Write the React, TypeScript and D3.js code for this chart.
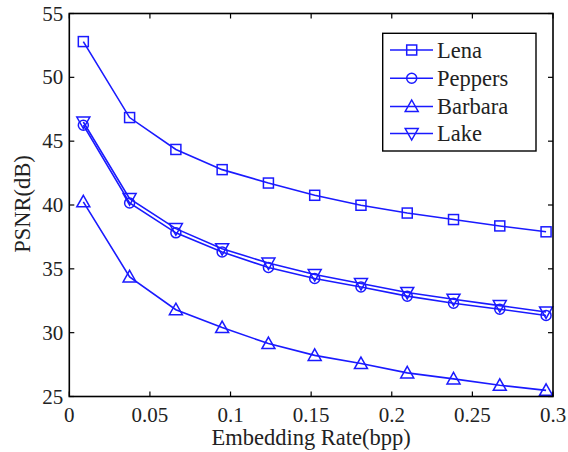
import React from "react";
import * as d3 from "d3";

const rates = [0.0087, 0.0374, 0.0661, 0.0948, 0.1235, 0.1522, 0.1809, 0.2096, 0.2383, 0.267, 0.2957];
const lena = [52.8, 46.85, 44.35, 42.77, 41.72, 40.76, 39.98, 39.37, 38.86, 38.36, 37.9];
const peppers = [46.25, 40.16, 37.82, 36.32, 35.1, 34.24, 33.58, 32.86, 32.3, 31.84, 31.35];
const barbara = [40.25, 34.37, 31.8, 30.4, 29.15, 28.22, 27.58, 26.85, 26.38, 25.88, 25.48];
const lake = [46.5, 40.5, 38.15, 36.58, 35.45, 34.55, 33.85, 33.15, 32.62, 32.12, 31.62];

const seriesNames = ["Lena", "Peppers", "Barbara", "Lake"];
const seriesMarkers = ["square", "circle", "triangle", "triangleDown"];
const seriesValues = [lena, peppers, barbara, lake];

const xTicks = [0, 0.05, 0.1, 0.15, 0.2, 0.25, 0.3];
const yTicks = [25, 30, 35, 40, 45, 50, 55];

const W = 568;
const H = 452;
const L = 69.3, R = 553, T = 13.5, B = 396.5;
const BLUE = "#1a1aff";
const FONT = "Liberation Serif, DejaVu Serif, serif";
const txt: React.CSSProperties = { fontFamily: FONT };

function Marker({ kind, x, y }: { kind: string; x: number; y: number }) {
  const s = 5;
  if (kind === "square")
    return <rect x={x - s} y={y - s} width={2 * s} height={2 * s} fill="none" stroke={BLUE} strokeWidth={1.5} />;
  if (kind === "circle")
    return <circle cx={x} cy={y} r={s} fill="none" stroke={BLUE} strokeWidth={1.5} />;
  if (kind === "triangle")
    return <path d={`M${x},${y - 6.5}L${x + 6.5},${y + 5}L${x - 6.5},${y + 5}Z`} fill="none" stroke={BLUE} strokeWidth={1.5} />;
  return <path d={`M${x},${y + 6.5}L${x + 6.5},${y - 5}L${x - 6.5},${y - 5}Z`} fill="none" stroke={BLUE} strokeWidth={1.5} />;
}

export default function App() {
  const xs = d3.scaleLinear().domain([0, 0.3]).range([L, R]);
  const ys = d3.scaleLinear().domain([25, 55]).range([B, T]);
  const line = d3
    .line<number>()
    .x((_, i) => xs(rates[i]))
    .y((d) => ys(d));
  const tl = 5;

  const legX = 382.7, legY = 33.3, legW = 153.3, legH = 117.7;
  const legRows = [50, 78.3, 106.5, 133.5];

  return (
    <svg width={W} height={H} style={{ position: "absolute", left: 0, top: 0, background: "#fff" }}>
      <rect x={0} y={0} width={W} height={H} fill="#fff" />
      {seriesValues.map((vals, si) => (
        <g key={seriesNames[si]}>
          <path d={line(vals) || ""} fill="none" stroke={BLUE} strokeWidth={1.6} />
          {vals.map((v, i) => (
            <Marker key={i} kind={seriesMarkers[si]} x={xs(rates[i])} y={ys(v)} />
          ))}
        </g>
      ))}
      {xTicks.map((t) => (
        <g key={"x" + t}>
          <line x1={xs(t)} x2={xs(t)} y1={B} y2={B - tl} stroke="#000" strokeWidth={1.2} />
          <line x1={xs(t)} x2={xs(t)} y1={T} y2={T + tl} stroke="#000" strokeWidth={1.2} />
          <text x={xs(t)} y={422} textAnchor="middle" style={txt} fontSize={21} fill="#222">
            {String(t)}
          </text>
        </g>
      ))}
      {yTicks.map((t) => (
        <g key={"y" + t}>
          <line x1={L} x2={L + tl} y1={ys(t)} y2={ys(t)} stroke="#000" strokeWidth={1.2} />
          <line x1={R} x2={R - tl} y1={ys(t)} y2={ys(t)} stroke="#000" strokeWidth={1.2} />
          <text x={L - 6} y={ys(t) + 7} textAnchor="end" style={txt} fontSize={21} fill="#222">
            {String(t)}
          </text>
        </g>
      ))}
      <rect x={L} y={T} width={R - L} height={B - T} fill="none" stroke="#000" strokeWidth={1.6} />
      <text x={(L + R) / 2} y={445} textAnchor="middle" style={txt} fontSize={22.5} fill="#222">
        Embedding Rate(bpp)
      </text>
      <text
        transform={`translate(30,${(153 + 255) / 2}) rotate(-90)`}
        textAnchor="middle"
        style={txt}
        fontSize={22.5}
        fill="#222"
      >
        PSNR(dB)
      </text>
      <rect x={legX} y={legY} width={legW} height={legH} fill="#fff" stroke="#000" strokeWidth={1.4} />
      {seriesNames.map((n, i) => (
        <g key={"leg" + n}>
          <line x1={390} x2={433} y1={legRows[i]} y2={legRows[i]} stroke={BLUE} strokeWidth={1.6} />
          <Marker kind={seriesMarkers[i]} x={411.7} y={legRows[i]} />
          <text x={437} y={legRows[i] + 7.5} style={txt} fontSize={22.5} fill="#222">
            {n}
          </text>
        </g>
      ))}
    </svg>
  );
}
